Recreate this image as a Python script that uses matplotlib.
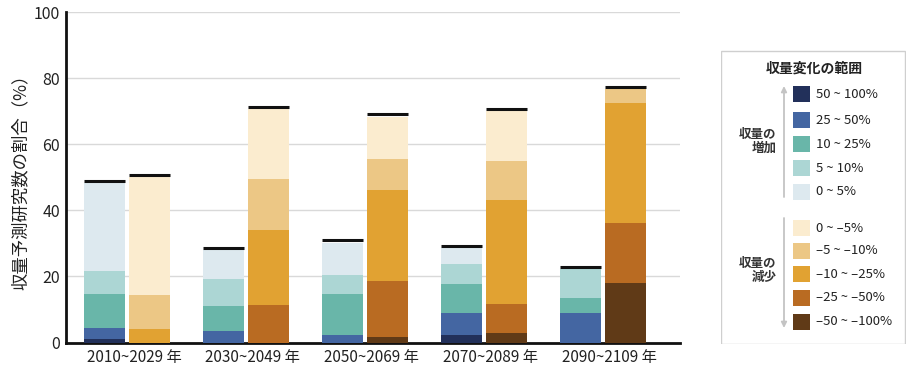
import numpy as np
import matplotlib
matplotlib.use('Agg')
import matplotlib.pyplot as plt
import matplotlib.transforms as mtransforms
from matplotlib.patches import Rectangle

plt.rcParams['font.family'] = ['Noto Sans CJK JP', 'DejaVu Sans']

periods = ['2010~2029', '2030~2049', '2050~2069', '2070~2089', '2090~2109']

# increase classes, bottom to top: 50~100, 25~50, 10~25, 5~10, 0~5 (%)
inc_50_100 = [1.0, 0.0, 0.0, 2.2, 0.0]
inc_25_50 = [3.3, 3.4, 2.3, 6.7, 8.9]
inc_10_25 = [10.3, 7.8, 12.4, 8.9, 4.5]
inc_5_10 = [7.0, 7.9, 5.7, 5.9, 8.8]
inc_0_5 = [26.7, 8.9, 9.8, 4.8, 0.0]

# decrease classes, bottom to top: -50~-100, -25~-50, -10~-25, -5~-10, 0~-5 (%)
dec_50_100 = [0.0, 0.0, 1.6, 2.8, 18.1]
dec_25_50 = [0.0, 11.5, 17.0, 9.0, 18.1]
dec_10_25 = [4.2, 22.5, 27.6, 31.5, 36.3]
dec_5_10 = [10.3, 15.5, 9.3, 11.8, 4.2]
dec_0_5 = [35.6, 21.2, 12.9, 14.9, 0.0]

inc_labels = ['50 ~ 100%', '25 ~ 50%', '10 ~ 25%', '5 ~ 10%', '0 ~ 5%']
dec_labels = ['0 ~ \u20135%', '\u20135 ~ \u201310%', '\u201310 ~ \u201325%',
              '\u201325 ~ \u201350%', '\u201350 ~ \u2013100%']

inc_colors = ['#22305a', '#4466a2', '#69b6a9', '#acd6d4', '#dde9ef']
dec_colors = ['#603a17', '#b96b22', '#e1a232', '#ecc785', '#fbeccf']

inc_series = [inc_50_100, inc_25_50, inc_10_25, inc_5_10, inc_0_5]
dec_series = [dec_50_100, dec_25_50, dec_10_25, dec_5_10, dec_0_5]

fig = plt.figure(figsize=(9.2, 3.74), dpi=100)
ax = fig.add_axes([0.0714, 0.0842, 0.6676, 0.8829])

x = np.arange(len(periods))
w = 0.345
off = 0.19

def stack(xpos, series, colors):
    bottom = np.zeros(len(periods))
    for vals, c in zip(series, colors):
        vals = np.array(vals)
        ax.bar(xpos, vals, w, bottom=bottom, color=c, linewidth=0, zorder=3)
        bottom = bottom + vals
    # black cap on top of each bar
    for xi, tot in zip(xpos, bottom):
        ax.plot([xi - w / 2, xi + w / 2], [tot + 0.7, tot + 0.7],
                color='#111111', lw=2.2, solid_capstyle='butt', zorder=4)

stack(x - off, inc_series, inc_colors)
stack(x + off, dec_series, dec_colors)

ax.set_xlim(-0.515, 4.647)
ax.set_ylim(0, 100)
ax.set_yticks([0, 20, 40, 60, 80, 100])
ax.tick_params(axis='y', length=0, labelsize=11.5, pad=4, colors='#222222')
ax.tick_params(axis='x', length=0, labelsize=11, pad=5, colors='#222222')
ax.set_xticks(x)
ax.set_xticklabels([p + ' 年' for p in periods])
shift = mtransforms.ScaledTranslation(5 / 72, 0, fig.dpi_scale_trans)
for lab in ax.get_xticklabels():
    lab.set_transform(lab.get_transform() + shift)

ax.grid(axis='y', color='#d9d9d9', lw=1.0, zorder=0)
for s in ['top', 'right']:
    ax.spines[s].set_visible(False)
ax.spines['left'].set_linewidth(2)
ax.spines['bottom'].set_linewidth(2)
ax.spines['left'].set_color('#111111')
ax.spines['bottom'].set_color('#111111')
ax.set_ylabel('収量予測研究数の割合（%）', fontsize=12.5, labelpad=3, color='#222222')

# legend panel (pixel-like coordinates inside the box)
lg = fig.add_axes([720.7 / 920, (374 - 344) / 374, 185 / 920, 294 / 374])
lg.set_xlim(0, 185)
lg.set_ylim(294, 0)
lg.axis('off')
lg.add_patch(Rectangle((0.5, 0.5), 184, 293, fill=False, edgecolor='#cfcfcf', lw=1))
lg.text(94, 19, '収量変化の範囲', ha='center', va='center', fontsize=10,
        fontweight='bold', color='#222222')

inc_y = [44.3, 70, 94.3, 118.3, 141.7]
dec_y = [178.3, 201, 224.3, 247.7, 271.7]
for yy, lab, c in zip(inc_y, inc_labels, inc_colors):
    lg.add_patch(Rectangle((72.6, yy - 8), 16.5, 16, color=c, lw=0))
    lg.text(95.5, yy, lab, ha='left', va='center', fontsize=9.5, color='#222222')
for yy, lab, c in zip(dec_y, dec_labels, dec_colors[::-1]):
    lg.add_patch(Rectangle((72.6, yy - 8), 16.5, 16, color=c, lw=0))
    lg.text(95.5, yy, lab, ha='left', va='center', fontsize=9.5, color='#222222')
lg.annotate('', xy=(63.3, 36), xytext=(63.3, 147),
            arrowprops=dict(arrowstyle='-|>', color='#c4c4c4', lw=1.3,
                            mutation_scale=8, shrinkA=0, shrinkB=0))
lg.annotate('', xy=(63.3, 278), xytext=(63.3, 168),
            arrowprops=dict(arrowstyle='-|>', color='#c4c4c4', lw=1.3,
                            mutation_scale=8, shrinkA=0, shrinkB=0))
lg.text(55.5, 91.7, '収量の\n増加', ha='right', va='center', fontsize=9,
        fontweight='bold', color='#333333', linespacing=1.1)
lg.text(55.5, 220, '収量の\n減少', ha='right', va='center', fontsize=9,
        fontweight='bold', color='#333333', linespacing=1.1)

fig.savefig('out.png', dpi=100)
